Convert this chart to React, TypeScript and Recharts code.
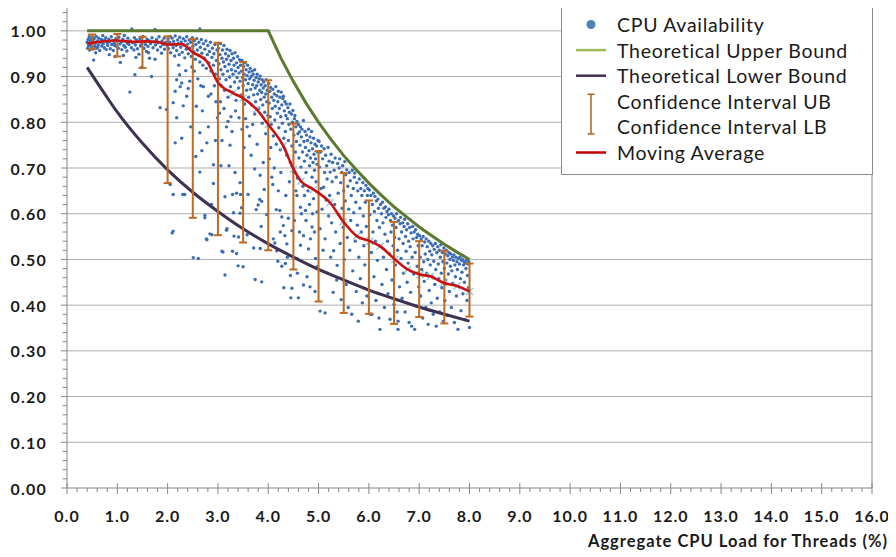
import React from 'react';
import { ComposedChart, Scatter, Line, XAxis, YAxis, CartesianGrid, ErrorBar, ReferenceLine } from 'recharts';

const FONT = 'Lato, "Open Sans", sans-serif';

// ---- CPU availability samples, grouped by load range ----
const cpuSegA: [number, number][] = [
  [0.40,0.975],[0.41,0.962],[0.42,0.981],[0.43,0.968],[0.44,0.987],[0.45,0.958],[0.46,0.974],[0.47,0.979],[0.48,0.965],[0.49,0.984],
  [0.50,0.971],[0.51,0.960],[0.52,0.977],[0.53,0.936],[0.54,0.983],[0.55,0.966],[0.56,0.973],[0.58,0.988],[0.59,0.962],[0.60,0.978],
  [0.62,0.969],[0.63,0.984],[0.65,0.957],[0.66,0.975],[0.68,0.981],[0.69,0.967],[0.71,0.990],[0.72,0.972],[0.74,0.963],[0.75,0.979],
  [0.77,0.985],[0.78,0.959],[0.80,0.974],[0.81,0.968],[0.83,0.982],[0.85,0.976],[0.86,0.961],[0.88,0.987],[0.89,0.970],[0.91,0.979],
  [0.92,0.957],[0.94,0.973],[0.96,0.944],[0.97,0.983],[0.99,0.966],[1.00,0.978],[1.02,0.962],[1.03,0.986],[1.05,0.971],[1.06,0.931],
  [1.08,0.975],[1.09,0.959],[1.11,0.982],[1.13,0.968],[1.14,0.990],[1.16,0.964],[1.18,0.977],[1.19,0.956],[1.21,0.984],[1.23,0.970],
  [1.25,0.866],[1.26,0.978],[1.28,0.963],[1.29,1.004],[1.31,0.974],[1.33,0.958],[1.34,0.985],[1.35,0.904],[1.36,0.969],[1.38,0.980],
  [1.40,0.961],[1.41,0.976],[1.43,0.949],[1.45,0.983],[1.46,0.967],[1.48,0.920],[1.49,0.974],[1.51,0.988],[1.53,0.962],[1.54,0.977],
  [1.56,0.970],[1.58,0.955],[1.59,0.982],[1.61,0.966],[1.63,0.979],[1.64,0.940],[1.66,0.972],[1.68,0.900],[1.69,0.985],[1.71,0.963],
  [1.73,0.976],[1.75,1.003],[1.75,0.938],[1.76,0.969],[1.78,0.981],[1.80,0.958],[1.81,0.974],[1.83,0.987],[1.85,0.832],[1.86,0.965],
  [1.88,0.951],[1.89,0.978],[1.91,0.970],[1.93,0.984],[1.94,0.960],[1.96,0.975],[1.98,0.828],[1.99,0.967],[0.57,0.952],[0.84,0.948],
  [1.12,0.946],[1.37,0.942],[1.62,0.952],[0.70,0.980],[0.45,0.970],[0.52,0.985],[0.61,0.964],[0.95,0.968],[1.20,0.973],[1.47,0.969],
];

const cpuSegB: [number, number][] = [
  [2.01,0.982],[2.02,0.961],[2.04,0.975],[2.05,0.988],[2.06,0.952],[2.08,0.970],[2.09,0.984],[2.11,0.963],[2.12,0.977],[2.14,0.945],
  [2.15,0.989],[2.17,0.968],[2.18,0.957],[2.20,0.980],[2.21,0.972],[2.23,0.948],[2.24,0.986],[2.26,0.964],[2.27,0.976],[2.29,0.953],
  [2.31,0.983],[2.32,0.969],[2.34,0.941],[2.35,0.978],[2.37,0.960],[2.38,0.987],[2.40,0.971],[2.41,0.950],[2.43,0.980],[2.44,0.962],
  [2.46,0.975],[2.47,0.944],[2.49,0.985],[2.50,0.966],[2.52,0.954],[2.53,0.979],[2.55,0.938],[2.56,0.970],[2.58,0.983],[2.59,0.958],
  [2.61,0.947],[2.62,0.975],[2.64,1.004],[2.64,0.932],[2.65,0.964],[2.67,0.981],[2.68,0.951],[2.70,0.925],[2.71,0.972],[2.73,0.940],
  [2.74,0.960],[2.76,0.978],[2.77,0.918],[2.79,0.948],[2.80,0.968],[2.82,0.930],[2.83,0.955],[2.85,0.975],[2.86,0.912],[2.88,0.942],
  [2.89,0.962],[2.91,0.925],[2.92,0.950],[2.94,0.970],[2.95,0.905],[2.97,0.935],[2.98,0.958],
  [2.05,0.664],[2.09,0.558],[2.11,0.562],[2.11,0.642],[2.11,0.843],[2.15,0.868],[2.15,0.755],[2.18,0.893],[2.18,0.810],[2.24,0.904],
  [2.25,0.878],[2.28,0.886],[2.28,0.765],[2.30,0.642],[2.31,0.836],[2.34,0.642],[2.38,0.857],[2.41,0.874],[2.44,0.890],[2.51,0.504],
  [2.53,0.912],[2.57,0.835],[2.61,0.502],[2.64,0.777],[2.64,0.691],[2.71,0.878],[2.74,0.591],[2.74,0.596],[2.77,0.545],[2.78,0.755],
  [2.78,0.543],[2.81,0.857],[2.81,0.790],[2.84,0.556],[2.88,0.554],[2.91,0.707],[2.91,0.666],[2.60,0.895],[2.48,0.921],[2.66,0.880],
  [2.69,0.825],[2.86,0.862],[2.93,0.880],[2.96,0.845],[2.99,0.810],[2.36,0.913],[2.22,0.925],[2.56,0.725],[2.46,0.790],[2.68,0.738],
  [2.87,0.620],[2.95,0.760],
];

const cpuSegC: [number, number][] = [
  [3.01,0.962],[3.02,0.928],[3.03,0.895],[3.04,0.948],[3.05,0.972],[3.06,0.915],[3.07,0.880],[3.08,0.940],[3.09,0.958],[3.10,0.905],
  [3.11,0.932],[3.12,0.968],[3.13,0.870],[3.14,0.922],[3.15,0.950],[3.16,0.893],[3.17,0.938],[3.18,0.960],[3.19,0.912],[3.20,0.855],
  [3.21,0.945],[3.22,0.927],[3.23,0.899],[3.24,0.957],[3.25,0.878],[3.26,0.935],[3.27,0.915],[3.28,0.950],[3.29,0.866],[3.30,0.905],
  [3.31,0.940],[3.32,0.925],[3.33,0.888],[3.34,0.952],[3.35,0.912],[3.36,0.848],[3.37,0.930],[3.38,0.898],[3.39,0.944],[3.40,0.920],
  [3.41,0.875],[3.42,0.908],[3.43,0.937],[3.44,0.890],[3.45,0.925],[3.46,0.860],[3.47,0.912],[3.48,0.935],[3.49,0.898],[3.50,0.880],
  [3.51,0.922],[3.52,0.905],[3.53,0.840],[3.54,0.930],[3.55,0.893],[3.56,0.915],[3.57,0.870],[3.58,0.902],[3.59,0.925],[3.60,0.885],
  [3.61,0.855],[3.62,0.910],[3.63,0.895],[3.64,0.918],[3.65,0.872],[3.66,0.900],[3.67,0.838],[3.68,0.912],[3.69,0.882],[3.70,0.905],
  [3.71,0.860],[3.72,0.892],[3.73,0.915],[3.74,0.875],[3.75,0.845],[3.76,0.898],[3.77,0.880],[3.78,0.905],[3.79,0.862],[3.80,0.888],
  [3.81,0.830],[3.82,0.895],[3.83,0.870],[3.84,0.901],[3.85,0.850],[3.86,0.882],[3.87,0.865],[3.88,0.893],[3.89,0.838],[3.90,0.875],
  [3.91,0.888],[3.92,0.855],[3.93,0.822],[3.94,0.880],[3.95,0.862],[3.96,0.893],[3.97,0.845],[3.98,0.870],[3.99,0.815],
  [3.03,0.820],[3.08,0.760],[3.10,0.516],[3.14,0.637],[3.14,0.466],[3.17,0.790],[3.17,0.564],[3.18,0.567],[3.08,0.518],[3.22,0.705],
  [3.26,0.812],[3.29,0.642],[3.29,0.518],[3.31,0.602],[3.32,0.551],[3.34,0.690],[3.37,0.645],[3.37,0.513],[3.40,0.486],[3.41,0.549],
  [3.44,0.668],[3.44,0.601],[3.45,0.642],[3.47,0.613],[3.48,0.785],[3.50,0.484],[3.52,0.745],[3.55,0.808],[3.58,0.554],[3.60,0.642],
  [3.63,0.770],[3.66,0.728],[3.69,0.795],[3.71,0.525],[3.73,0.698],[3.74,0.456],[3.76,0.609],[3.78,0.752],[3.80,0.619],[3.83,0.631],
  [3.84,0.684],[3.84,0.524],[3.86,0.572],[3.87,0.627],[3.87,0.451],[3.88,0.798],[3.90,0.712],[3.92,0.653],[3.95,0.775],[3.97,0.598],
  [3.05,0.845],[3.12,0.830],[3.20,0.802],[3.28,0.780],[3.35,0.825],[3.42,0.810],[3.58,0.790],[3.73,0.818],[3.24,0.750],[3.06,0.705],
];

const cpuSegD: [number, number][] = [
  [4.01,0.885],[4.02,0.842],[4.03,0.868],[4.04,0.812],[4.05,0.876],[4.06,0.795],[4.07,0.855],[4.08,0.830],[4.09,0.872],[4.10,0.770],
  [4.11,0.848],[4.12,0.862],[4.13,0.805],[4.14,0.835],[4.15,0.878],[4.16,0.752],[4.17,0.858],[4.18,0.820],[4.19,0.845],[4.20,0.868],
  [4.21,0.788],[4.22,0.830],[4.23,0.855],[4.24,0.740],[4.25,0.812],[4.26,0.866],[4.27,0.838],[4.28,0.798],[4.29,0.852],[4.30,0.857],
  [4.31,0.765],[4.32,0.825],[4.33,0.845],[4.34,0.780],[4.35,0.815],[4.36,0.840],[4.37,0.728],[4.38,0.808],[4.39,0.832],[4.40,0.760],
  [4.41,0.795],[4.42,0.822],[4.43,0.840],[4.44,0.712],[4.45,0.785],[4.46,0.818],[4.47,0.748],[4.48,0.800],[4.49,0.826],[4.50,0.690],
  [4.51,0.772],[4.52,0.808],[4.53,0.815],[4.54,0.735],[4.55,0.790],[4.56,0.758],[4.57,0.802],[4.58,0.678],[4.59,0.775],[4.60,0.795],
  [4.61,0.722],[4.62,0.779],[4.63,0.750],[4.64,0.790],[4.65,0.702],[4.66,0.768],[4.67,0.785],[4.68,0.735],[4.69,0.660],[4.70,0.804],
  [4.71,0.758],[4.72,0.715],[4.73,0.780],[4.74,0.745],[4.75,0.690],[4.76,0.772],[4.77,0.728],[4.78,0.760],[4.79,0.650],[4.80,0.785],
  [4.81,0.738],[4.82,0.705],[4.83,0.768],[4.84,0.722],[4.85,0.755],[4.86,0.780],[4.87,0.680],[4.88,0.742],[4.89,0.712],[4.90,0.765],
  [4.91,0.730],[4.92,0.695],[4.93,0.752],[4.94,0.720],[4.95,0.670],[4.96,0.748],[4.97,0.708],[4.98,0.735],[4.99,0.760],
  [4.02,0.720],[4.07,0.680],[4.09,0.664],[4.10,0.545],[4.13,0.536],[4.16,0.609],[4.17,0.519],[4.19,0.496],[4.23,0.607],[4.27,0.593],
  [4.27,0.485],[4.30,0.574],[4.31,0.438],[4.33,0.552],[4.34,0.491],[4.37,0.534],[4.44,0.465],[4.45,0.416],[4.47,0.563],[4.47,0.437],
  [4.57,0.502],[4.57,0.640],[4.60,0.416],[4.64,0.531],[4.64,0.614],[4.70,0.552],[4.70,0.444],[4.74,0.607],[4.77,0.462],[4.80,0.523],
  [4.87,0.571],[4.90,0.633],[4.94,0.502],[4.97,0.604],[4.97,0.484],[4.05,0.745],[4.12,0.700],[4.20,0.650],[4.25,0.690],[4.35,0.640],
  [4.40,0.590],[4.42,0.670],[4.52,0.585],[4.55,0.650],[4.62,0.560],[4.66,0.600],[4.72,0.640],[4.75,0.585],[4.82,0.620],[4.84,0.545],
  [4.88,0.600],[4.92,0.560],[4.58,0.470],[4.83,0.440],[4.93,0.430],[4.38,0.505],[4.24,0.560],
];

const cpuSegE: [number, number][] = [
  [5.01,0.758],[5.02,0.702],[5.03,0.567],[5.03,0.387],[5.04,0.735],[5.05,0.655],[5.06,0.748],[5.07,0.610],[5.08,0.720],[5.09,0.520],
  [5.10,0.658],[5.11,0.742],[5.12,0.690],[5.13,0.545],[5.13,0.383],[5.14,0.728],[5.15,0.630],[5.16,0.705],[5.17,0.676],[5.18,0.470],
  [5.19,0.745],[5.20,0.595],[5.21,0.715],[5.22,0.640],[5.23,0.691],[5.24,0.505],[5.25,0.730],[5.26,0.580],[5.27,0.670],[5.28,0.712],
  [5.29,0.428],[5.30,0.519],[5.31,0.695],[5.32,0.620],[5.33,0.722],[5.34,0.560],[5.35,0.680],[5.36,0.455],[5.37,0.487],[5.38,0.710],
  [5.39,0.645],[5.40,0.598],[5.41,0.700],[5.42,0.720],[5.43,0.535],[5.44,0.668],[5.45,0.412],[5.46,0.690],[5.47,0.612],[5.48,0.705],
  [5.49,0.570],[5.50,0.650],[5.51,0.500],[5.52,0.714],[5.53,0.628],[5.54,0.685],[5.55,0.445],[5.56,0.696],[5.57,0.548],[5.58,0.660],
  [5.59,0.395],[5.60,0.610],[5.61,0.690],[5.62,0.520],[5.63,0.672],[5.64,0.585],[5.65,0.640],[5.66,0.380],[5.67,0.695],[5.68,0.475],
  [5.69,0.655],[5.70,0.602],[5.71,0.680],[5.72,0.689],[5.73,0.540],[5.74,0.625],[5.75,0.430],[5.76,0.668],[5.77,0.575],[5.78,0.650],
  [5.79,0.365],[5.80,0.505],[5.81,0.676],[5.82,0.612],[5.83,0.458],[5.84,0.655],[5.85,0.560],[5.86,0.640],[5.87,0.405],[5.88,0.668],
  [5.89,0.595],[5.90,0.530],[5.91,0.650],[5.92,0.488],[5.93,0.625],[5.94,0.662],[5.95,0.572],[5.96,0.420],[5.97,0.640],[5.98,0.655],
  [5.99,0.545],
];

const cpuSegF: [number, number][] = [
  [6.01,0.652],[6.02,0.598],[6.03,0.380],[6.04,0.640],[6.05,0.515],[6.06,0.380],[6.07,0.620],[6.08,0.560],[6.09,0.645],[6.10,0.462],
  [6.11,0.605],[6.12,0.638],[6.13,0.540],[6.14,0.410],[6.15,0.628],[6.16,0.585],[6.17,0.498],[6.18,0.632],[6.19,0.612],[6.20,0.372],
  [6.21,0.570],[6.22,0.347],[6.23,0.620],[6.24,0.528],[6.25,0.600],[6.26,0.445],[6.27,0.625],[6.28,0.580],[6.29,0.505],[6.30,0.612],
  [6.31,0.395],[6.32,0.555],[6.33,0.615],[6.34,0.592],[6.35,0.478],[6.36,0.605],[6.37,0.540],[6.38,0.425],[6.39,0.598],[6.40,0.610],
  [6.41,0.512],[6.42,0.369],[6.43,0.585],[6.44,0.560],[6.45,0.600],[6.46,0.455],[6.47,0.575],[6.48,0.530],[6.49,0.595],[6.50,0.402],
  [6.51,0.548],[6.52,0.590],[6.53,0.488],[6.54,0.570],[6.55,0.600],[6.56,0.385],[6.57,0.520],[6.58,0.347],[6.58,0.365],[6.59,0.585],
  [6.60,0.545],[6.61,0.440],[6.62,0.578],[6.63,0.592],[6.64,0.502],[6.65,0.560],[6.66,0.415],[6.67,0.580],[6.68,0.535],[6.69,0.470],
  [6.70,0.572],[6.71,0.588],[6.72,0.385],[6.73,0.550],[6.74,0.518],[6.75,0.565],[6.76,0.450],[6.77,0.578],[6.78,0.492],[6.79,0.540],
  [6.80,0.362],[6.81,0.570],[6.82,0.528],[6.83,0.428],[6.84,0.558],[6.85,0.354],[6.86,0.505],[6.87,0.572],[6.88,0.545],[6.89,0.468],
  [6.90,0.560],[6.91,0.347],[6.92,0.515],[6.93,0.565],[6.94,0.398],[6.95,0.548],[6.96,0.485],[6.97,0.555],[6.98,0.530],[6.99,0.440],
];

const cpuSegG: [number, number][] = [
  [7.01,0.552],[7.02,0.505],[7.03,0.420],[7.04,0.545],[7.05,0.478],[7.06,0.530],[7.07,0.372],[7.08,0.550],[7.09,0.495],[7.10,0.452],
  [7.11,0.538],[7.12,0.512],[7.13,0.395],[7.14,0.545],[7.15,0.470],[7.16,0.528],[7.17,0.500],[7.18,0.358],[7.19,0.540],[7.20,0.432],
  [7.21,0.518],[7.22,0.488],[7.23,0.535],[7.24,0.405],[7.25,0.510],[7.26,0.462],[7.27,0.530],[7.28,0.380],[7.29,0.496],[7.30,0.522],
  [7.31,0.445],[7.32,0.535],[7.33,0.478],[7.34,0.354],[7.35,0.515],[7.36,0.415],[7.37,0.528],[7.38,0.490],[7.39,0.458],[7.40,0.520],
  [7.41,0.385],[7.42,0.505],[7.43,0.532],[7.44,0.470],[7.45,0.438],[7.46,0.515],[7.47,0.495],[7.48,0.365],[7.49,0.525],[7.50,0.480],
  [7.51,0.410],[7.52,0.512],[7.53,0.455],[7.54,0.520],[7.55,0.492],[7.56,0.378],[7.57,0.508],[7.58,0.468],[7.59,0.515],[7.60,0.430],
  [7.61,0.500],[7.62,0.485],[7.63,0.512],[7.64,0.395],[7.65,0.475],[7.66,0.505],[7.67,0.448],[7.68,0.498],[7.69,0.510],[7.70,0.362],
  [7.71,0.488],[7.72,0.462],[7.73,0.505],[7.74,0.420],[7.75,0.495],[7.76,0.478],[7.77,0.347],[7.78,0.502],[7.79,0.440],[7.80,0.490],
  [7.81,0.505],[7.82,0.458],[7.83,0.388],[7.84,0.498],[7.85,0.472],[7.86,0.500],[7.87,0.425],[7.88,0.488],[7.89,0.495],[7.90,0.450],
  [7.91,0.368],[7.92,0.492],[7.93,0.480],[7.94,0.498],[7.95,0.410],[7.96,0.465],[7.97,0.490],[7.98,0.438],[7.99,0.495],[8.00,0.351],
];

// ---- Theoretical bounds ----
const upperBoundX = [0.4, 1.0, 2.0, 3.0, 4.0, 4.25, 4.5, 4.75, 5.0, 5.25, 5.5, 5.75, 6.0, 6.25, 6.5, 6.75, 7.0, 7.25, 7.5, 7.75, 8.0];
const upperBoundY = [1.0, 1.0, 1.0, 1.0, 1.0, 0.941, 0.889, 0.842, 0.800, 0.762, 0.727, 0.696, 0.667, 0.640, 0.615, 0.593, 0.571, 0.552, 0.533, 0.516, 0.500];
const lowerBoundX = [0.4, 0.75, 1.0, 1.5, 2.0, 2.5, 3.0, 3.5, 4.0, 4.5, 5.0, 5.5, 6.0, 6.5, 7.0, 7.5, 8.0];
const lowerBoundY = [0.920, 0.862, 0.822, 0.754, 0.696, 0.647, 0.605, 0.567, 0.534, 0.505, 0.478, 0.455, 0.433, 0.414, 0.396, 0.380, 0.365];

// ---- Confidence intervals ----
const ciX = [0.5, 1.0, 1.5, 2.0, 2.5, 3.0, 3.5, 4.0, 4.5, 5.0, 5.5, 6.0, 6.5, 7.0, 7.5, 8.0];
const ciUpper = [0.992, 0.993, 0.987, 0.988, 0.982, 0.974, 0.932, 0.892, 0.797, 0.737, 0.689, 0.629, 0.582, 0.540, 0.519, 0.491];
const ciLower = [0.960, 0.944, 0.919, 0.667, 0.591, 0.553, 0.537, 0.520, 0.478, 0.408, 0.383, 0.381, 0.359, 0.374, 0.360, 0.375];

// ---- Moving average ----
const maX = [0.40, 0.65, 1.00, 1.30, 1.55, 1.80, 2.00, 2.28, 2.50, 2.78, 3.00, 3.30, 3.50, 3.77, 4.00, 4.30, 4.50, 4.65, 4.90, 5.23, 5.49, 5.76, 6.02, 6.22, 6.52, 6.77, 7.02, 7.22, 7.48, 7.75, 8.00];
const maY = [0.972, 0.976, 0.979, 0.976, 0.977, 0.976, 0.970, 0.971, 0.953, 0.933, 0.887, 0.864, 0.853, 0.828, 0.795, 0.748, 0.698, 0.671, 0.653, 0.624, 0.583, 0.551, 0.540, 0.529, 0.500, 0.478, 0.467, 0.463, 0.449, 0.442, 0.430];

// ---- Axis ticks ----
const xMajorTicks = [0, 1, 2, 3, 4, 5, 6, 7, 8, 9, 10, 11, 12, 13, 14, 15, 16];
const yMajorTicks = [0, 0.1, 0.2, 0.3, 0.4, 0.5, 0.6, 0.7, 0.8, 0.9, 1.0];
const xMinorPerMajor = 5;
const yMinorStep = 0.02;

const legendItems = [
  'CPU Availability',
  'Theoretical Upper Bound',
  'Theoretical Lower Bound',
  'Confidence Interval UB',
  'Confidence Interval LB',
  'Moving Average',
];

// ---- Derived tables ----
const cpuData = [...cpuSegA, ...cpuSegB, ...cpuSegC, ...cpuSegD, ...cpuSegE, ...cpuSegF, ...cpuSegG].map(([x, y]) => ({ x, y }));
const upperData = upperBoundX.map((x, i) => ({ x, y: upperBoundY[i] }));
const lowerData = lowerBoundX.map((x, i) => ({ x, y: lowerBoundY[i] }));
const ciData = ciX.map((x, i) => ({ x, y: ciLower[i], err: [0, +(ciUpper[i] - ciLower[i]).toFixed(3)] }));
const maData = maX.map((x, i) => ({ x, y: maY[i] }));
const maMarkers = maData.filter((d) => d.x >= 3.2);

const xTicks: number[] = [];
for (let i = 0; i < xMajorTicks.length - 1; i++) {
  for (let k = 0; k < xMinorPerMajor; k++) xTicks.push(+(xMajorTicks[i] + k / xMinorPerMajor).toFixed(2));
}
xTicks.push(xMajorTicks[xMajorTicks.length - 1]);
const yTicks: number[] = [];
for (let v = 0; v <= 1.05 + 1e-9; v += yMinorStep) yTicks.push(+v.toFixed(2));

const AXIS_COLOR = '#868686';

const XTick = (props: any) => {
  const { x, y, payload } = props;
  const v = payload.value as number;
  const major = Math.abs(v - Math.round(v)) < 1e-6;
  return (
    <g>
      <line x1={x} x2={x} y1={major ? y - 5 : y} y2={major ? y + 6 : y + 4} stroke={AXIS_COLOR} strokeWidth={1} />
      {major && (
        <text x={x} y={y + 27} textAnchor="middle" dominantBaseline="central" fontFamily={FONT} fontWeight={700} fontSize={16} letterSpacing={1} fill="#1a1a1a">
          {v.toFixed(1)}
        </text>
      )}
    </g>
  );
};

const YTick = (props: any) => {
  const { x, y, payload } = props;
  const v = payload.value as number;
  const major = Math.abs(v * 10 - Math.round(v * 10)) < 1e-6;
  return (
    <g>
      <line x1={x - (major ? 6 : 4.5)} x2={x} y1={y} y2={y} stroke={AXIS_COLOR} strokeWidth={1} />
      {major && (
        <text x={x - 20} y={y} textAnchor="end" dominantBaseline="central" fontFamily={FONT} fontWeight={700} fontSize={16} letterSpacing={1.2} fill="#1a1a1a">
          {v.toFixed(2)}
        </text>
      )}
    </g>
  );
};

const Dot = (props: any) => <circle cx={props.cx} cy={props.cy} r={1.7} fill="#3B6DB3" />;
const NoShape = () => <g />;
const XMark = (props: any) => {
  const { cx, cy } = props;
  const s = 3.5;
  return (
    <g stroke="#8CC8DE" strokeWidth={1.4}>
      <line x1={cx - s} y1={cy - s} x2={cx + s} y2={cy + s} />
      <line x1={cx - s} y1={cy + s} x2={cx + s} y2={cy - s} />
    </g>
  );
};

const AxisTitle = (props: any) => {
  const vb = props.viewBox || {};
  return (
    <text x={vb.x + vb.width + 16} y={vb.y + 53} textAnchor="end" dominantBaseline="central" fontFamily={FONT} fontWeight={700} fontSize={16.5} letterSpacing={1} fill="#1a1a1a">
      Aggregate CPU Load for Threads (%)
    </text>
  );
};

const Legend = () => {
  const rowY = (i: number) => 16.5 + i * 25.6;
  const textStyle = { fontFamily: FONT, fontSize: 19.5, letterSpacing: 0.7, fill: '#1a1a1a' } as const;
  return (
    <div style={{ position: 'absolute', left: 553, top: -1, width: 312, height: 168, border: '1px solid #8C8C8C', background: '#fff', boxSizing: 'border-box' }}>
      <svg width={310} height={166} style={{ display: 'block' }}>
        <circle cx={29} cy={rowY(0)} r={4.5} fill="#4F81BD" />
        <line x1={14} x2={44} y1={rowY(1)} y2={rowY(1)} stroke="#9BBB59" strokeWidth={2.5} />
        <line x1={14} x2={44} y1={rowY(2)} y2={rowY(2)} stroke="#403152" strokeWidth={2.5} />
        <g stroke="#B0621E" strokeWidth={1.5}>
          <line x1={29} x2={29} y1={rowY(3) - 7} y2={rowY(4) + 7} />
          <line x1={25.5} x2={32.5} y1={rowY(3) - 7} y2={rowY(3) - 7} />
          <line x1={25.5} x2={32.5} y1={rowY(4) + 7} y2={rowY(4) + 7} />
        </g>
        <line x1={14} x2={44} y1={rowY(5)} y2={rowY(5)} stroke="#C00000" strokeWidth={2.5} />
        {legendItems.map((t, i) => (
          <text key={t} x={55} y={rowY(i)} dominantBaseline="central" {...textStyle}>
            {t}
          </text>
        ))}
      </svg>
    </div>
  );
};

export default function App() {
  return (
    <div style={{ position: 'relative', width: 888, height: 549, background: '#fff' }}>
      <ComposedChart width={888} height={549} margin={{ top: 0, right: 24, bottom: 0, left: 0 }} style={{ overflow: 'visible' }}>
        <CartesianGrid vertical={false} horizontalValues={yMajorTicks.slice(1)} stroke="#ADADAD" strokeWidth={1} />
        <XAxis
          type="number"
          dataKey="x"
          domain={[0, 16]}
          ticks={xTicks}
          interval={0}
          height={69}
          tickSize={0}
          tickMargin={0}
          tickLine={false}
          tick={<XTick />}
          stroke={AXIS_COLOR}
          allowDataOverflow
          label={<AxisTitle />}
        />
        <YAxis
          type="number"
          dataKey="y"
          domain={[0, 1.05]}
          ticks={yTicks}
          interval={0}
          width={59}
          tickSize={0}
          tickMargin={0}
          tickLine={false}
          tick={<YTick />}
          stroke={AXIS_COLOR}
          allowDataOverflow
        />
        <ReferenceLine x={16} stroke={AXIS_COLOR} strokeWidth={1} />
        <Scatter data={cpuData} shape={<Dot />} isAnimationActive={false} zIndex={100} />
        <Line data={upperData} dataKey="y" type="linear" stroke="#5B7A30" strokeWidth={3} dot={false} activeDot={false} isAnimationActive={false} zIndex={400} />
        <Line data={lowerData} dataKey="y" type="monotone" stroke="#3F3151" strokeWidth={3} dot={false} activeDot={false} isAnimationActive={false} zIndex={400} />
        <Scatter data={maMarkers} shape={<XMark />} isAnimationActive={false} zIndex={410} />
        <Scatter data={ciData} shape={<NoShape />} isAnimationActive={false} zIndex={420}>
          <ErrorBar dataKey="err" direction="y" width={4} strokeWidth={2} stroke="#BF6A22" zIndex={420} />
        </Scatter>
        <Line data={maData} dataKey="y" type="monotone" stroke="#CC1010" strokeWidth={2.6} dot={false} activeDot={false} isAnimationActive={false} zIndex={700} />
      </ComposedChart>
      <Legend />
    </div>
  );
}
